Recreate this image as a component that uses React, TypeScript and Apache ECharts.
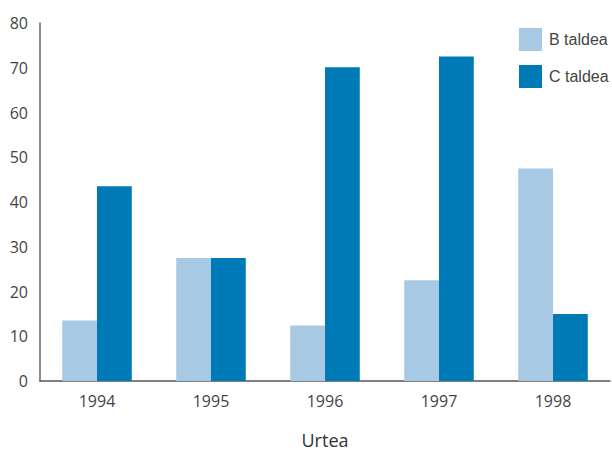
import React, { useEffect, useRef } from "react";
import * as echarts from "echarts";

const categories = ["1994", "1995", "1996", "1997", "1998"];
const seriesB = [13.5, 27.5, 12.4, 22.5, 47.5];
const seriesC = [43.5, 27.5, 70.1, 72.5, 15];
const seriesNames = ["B taldea", "C taldea"];

export default function App() {
  const ref = useRef<HTMLDivElement>(null);
  useEffect(() => {
    const chart = echarts.init(ref.current!, null, { renderer: "svg" });
    chart.setOption({
      animation: false,
      textStyle: { fontFamily: "Open Sans, Arial, sans-serif" },
      grid: { left: 40, right: 2, top: 23, bottom: 67 },
      legend: {
        orient: "vertical",
        left: 514,
        top: 23,
        itemWidth: 23,
        itemHeight: 23,
        itemGap: 14,
        icon: "rect",
        textStyle: {
          fontFamily: "Liberation Sans Narrow, Arial Narrow, sans-serif",
          fontSize: 16,
          color: "#444",
          padding: [0, 0, 0, 2],
        },
        data: seriesNames,
      },
      xAxis: {
        type: "category",
        data: categories,
        name: "Urtea",
        nameLocation: "middle",
        nameGap: 50,
        nameTextStyle: { fontSize: 18, color: "#333" },
        axisLine: { lineStyle: { color: "#555", width: 1.5 } },
        axisTick: { show: false },
        axisLabel: { fontSize: 16, color: "#444", margin: 12 },
      },
      yAxis: {
        type: "value",
        min: 0,
        max: 80,
        interval: 10,
        splitLine: { show: false },
        axisLine: { show: true, lineStyle: { color: "#666", width: 1.5 } },
        axisTick: { show: false },
        axisLabel: { fontSize: 16, color: "#444", margin: 12 },
      },
      series: [
        {
          name: seriesNames[0],
          type: "bar",
          data: seriesB,
          itemStyle: { color: "#a7c9e4" },
          barGap: "0%",
          barCategoryGap: "39%",
        },
        {
          name: seriesNames[1],
          type: "bar",
          data: seriesC,
          itemStyle: { color: "#007ab6" },
          barGap: "0%",
          barCategoryGap: "39%",
        },
      ],
    });
    return () => chart.dispose();
  }, []);
  return <div ref={ref} style={{ width: 612, height: 454, position: "absolute", left: 0, top: 0 }} />;
}
